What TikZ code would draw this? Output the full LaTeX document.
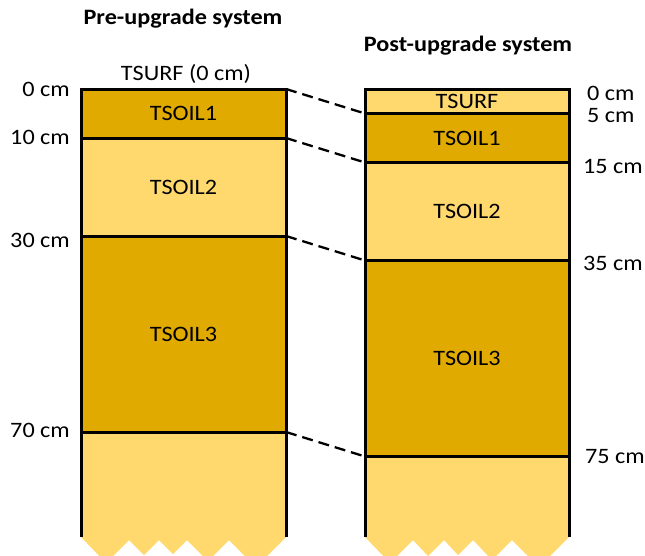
\documentclass[tikz,border=0pt]{standalone}
\usepackage{fontspec}
\setmainfont{Carlito}[FakeStretch=1.1]
\usetikzlibrary{positioning}
\definecolor{soildark}{RGB}{224,170,0}
\definecolor{soillight}{RGB}{255,217,110}

\begin{document}
\begin{tikzpicture}[x=1pt, y=-1pt, font=\fontsize{22}{26}\selectfont,
   layer/.style={draw, line width=3pt, outer sep=0pt, inner sep=0pt},
   dark/.style={layer, fill=soildark},
   light/.style={layer, fill=soillight},
   depth/.style={inner sep=0pt},
   link/.style={line width=2.3pt, dash pattern=on 11pt off 6pt}]
   \useasboundingbox (0,0) rectangle (645,555);

   % unlimited bottom layers
   \fill[soillight] (81,432) -- (286,432) -- (286,537) -- (256,567) -- (229,540) -- (208,561)
      -- (187,540) -- (173,554) -- (159,540) -- (144,555) -- (129,540) -- (106,563) -- (81,537) -- cycle;
   \fill[soillight] (365,456) -- (569,456) -- (569,537) -- (539,567) -- (512,540) -- (492,560)
      -- (473,540) -- (458,555) -- (444,540) -- (428,556) -- (413,540) -- (390,563) -- (365,537) -- cycle;
   \draw[line width=3pt] (81,432) -- (81,537) (286,432) -- (286,537);
   \draw[line width=3pt] (365,456) -- (365,537) (569,456) -- (569,537);

   % pre-upgrade
   \node (p1)[dark, minimum width=205pt, minimum height=49pt, anchor=north west] at (81,89) {TSOIL1};
   \node (p2)[light, minimum width=205pt, minimum height=98pt, below=0pt of p1] {TSOIL2};
   \node (p3)[dark, minimum width=205pt, minimum height=196pt, below=0pt of p2] {TSOIL3};

   % post-upgrade
   \node (q0)[light, minimum width=204pt, minimum height=24.5pt, anchor=north west] at (365,89) {TSURF};
   \node (q1)[dark, minimum width=204pt, minimum height=49pt, below=0pt of q0] {TSOIL1};
   \node (q2)[light, minimum width=204pt, minimum height=98pt, below=0pt of q1] {TSOIL2};
   \node (q3)[dark, minimum width=204pt, minimum height=196pt, below=0pt of q2] {TSOIL3};

   \node (pre) at (183,19) {\bfseries Pre-upgrade system};
   \node (post) at (468,46) {\bfseries Post-upgrade system};
   \node (surf) at (186,74) {TSURF (0 cm)};

   \node (d0)[depth, anchor=east] at (70,89) {0 cm};
   \node (d10)[depth, anchor=east] at (70,137) {10 cm};
   \node (d30)[depth, anchor=east] at (70,240) {30 cm};
   \node (d70)[depth, anchor=east] at (70,430) {70 cm};
   \node (e0)[depth, anchor=west] at (587,93) {0 cm};
   \node (e5)[depth, anchor=west] at (587,116) {5 cm};
   \node (e15)[depth, anchor=west] at (583,166) {15 cm};
   \node (e35)[depth, anchor=west] at (583,263) {35 cm};
   \node (e75)[depth, anchor=west] at (585,457) {75 cm};

   \draw[link] (p1.north east) -- (q1.north west);
   \draw[link] (p2.north east) -- (q2.north west);
   \draw[link] (p3.north east) -- (q3.north west);
   \draw[link] (p3.south east) -- (q3.south west);
\end{tikzpicture}
\end{document}
